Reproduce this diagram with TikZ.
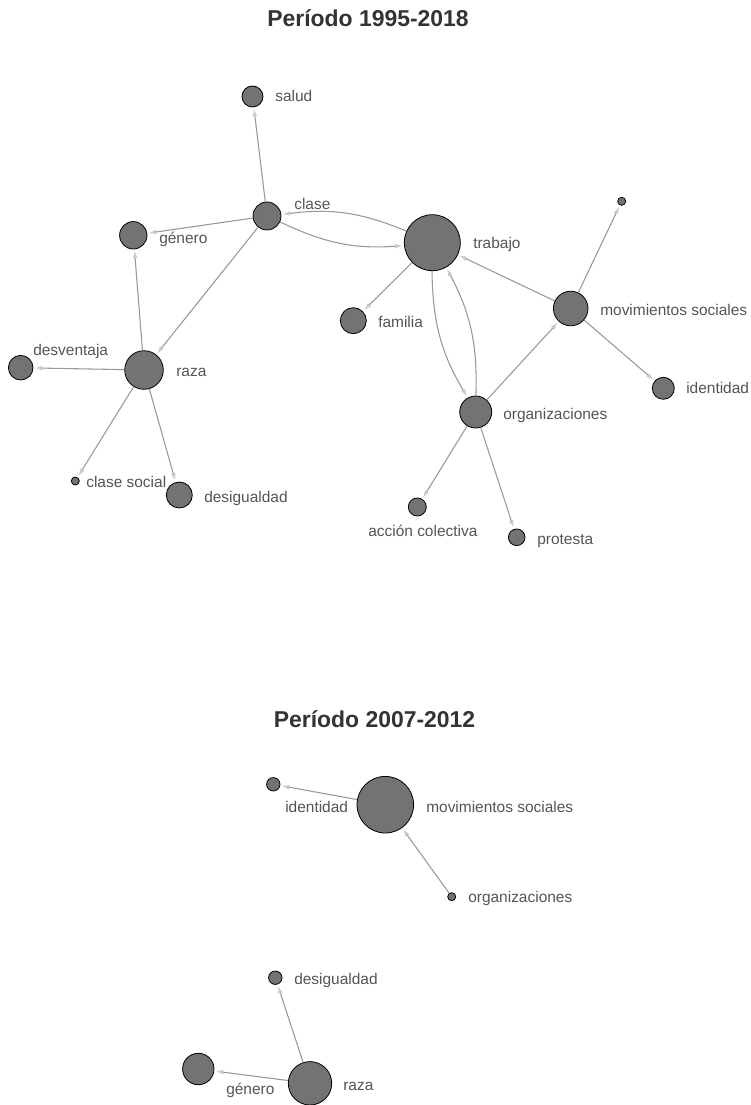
\documentclass[tikz,border=0pt]{standalone}
\usepackage{fontspec}
\setmainfont{Liberation Sans}
\usepackage{xcolor}
\usetikzlibrary{arrows.meta}

\definecolor{vfill}{HTML}{737373}
\definecolor{egray}{HTML}{999999}
\definecolor{tipgray}{HTML}{CACACA}
\definecolor{labgray}{HTML}{555555}
\definecolor{titlegray}{HTML}{333333}

\begin{document}
\begin{tikzpicture}[x=0.75pt,y=-0.75pt,
  vert/.style={circle,draw=black,line width=0.6pt,fill=vfill,inner sep=0pt,minimum size=#1*1.5pt},
  lab/.style={anchor=west,inner sep=0pt,text height=8.3pt,text depth=0pt,text=labgray,
    font=\fontsize{11.6}{14}\selectfont},
  ttl/.style={anchor=base,text=titlegray,font=\fontsize{17.2}{20}\selectfont\bfseries},
  edge/.style={draw=egray,line width=0.8pt,shorten >=1.2pt,
    -{Latex[length=5.5pt,width=3.6pt,color=tipgray]}}]
  \useasboundingbox[fill=white] (0,0) rectangle (750,1105);

  % periodo 1995-2018
  \node[ttl] (t1) at (368,27) {Período 1995-2018};
  \foreach \n/\x/\y/\r/\lx/\ly/\t in {
      salud/252.5/96.5/10.5/275/96/salud,
      clase/267/216/14/294/204/clase,
      genero/133.3/235.3/13.7/159/238/género,
      trabajo/432.3/242.7/28/473/243/trabajo,
      familia/353.3/320.7/13/378/322/familia,
      movsoc/570.7/308.5/17.3/600/310/movimientos sociales,
      identidad/663.3/388.3/11/686/388/identidad,
      raza/144/370/19.3/176/371/raza,
      desventaja/20.7/367.7/12.3/33/350/desventaja,
      clasesoc/75.3/481/4/86/482/clase social,
      desigualdad/179.3/495/13/204/497/desigualdad,
      organiz/475.7/412/16/503/414/organizaciones,
      accion/417.3/507/9/368/531/acción colectiva,
      protesta/516.7/537.3/8.3/537/539/protesta}{
    \node[vert=\r] (\n) at (\x,\y) {};
    \node[lab] (l-\n) at (\lx,\ly) {\t};
  }
  \node[vert=4] (sinnombre) at (621.7,201.3) {};

  \foreach \a/\b in {clase/salud,clase/genero,clase/raza,raza/genero,
      raza/desventaja,raza/clasesoc,raza/desigualdad,trabajo/familia,
      movsoc/trabajo,movsoc/sinnombre,movsoc/identidad,organiz/movsoc,
      organiz/accion,organiz/protesta}{
    \draw[edge] (\a) -- (\b);
  }
  \draw[edge] (trabajo) to[bend right=15] (clase);
  \draw[edge] (clase) to[bend right=15] (trabajo);
  \draw[edge] (trabajo) to[bend right=15] (organiz);
  \draw[edge] (organiz) to[bend right=15] (trabajo);

  % periodo 2007-2012
  \node[ttl] (t2) at (374.5,727) {Período 2007-2012};
  \foreach \n/\x/\y/\r/\lx/\ly/\t in {
      identidadB/273.3/784.3/6.7/285/807/identidad,
      movsocB/385.3/804.7/28.3/426/807/movimientos sociales,
      organizB/451.7/896.7/4/468/897/organizaciones,
      desigualdadB/275.3/977.7/6.7/294/979/desigualdad,
      generoB/198.3/1069/15.7/226/1089/género,
      razaB/310/1083.3/21.7/343/1085/raza}{
    \node[vert=\r] (\n) at (\x,\y) {};
    \node[lab] (l-\n) at (\lx,\ly) {\t};
  }
  \foreach \a/\b in {movsocB/identidadB,organizB/movsocB,razaB/desigualdadB,razaB/generoB}{
    \draw[edge] (\a) -- (\b);
  }
\end{tikzpicture}
\end{document}
